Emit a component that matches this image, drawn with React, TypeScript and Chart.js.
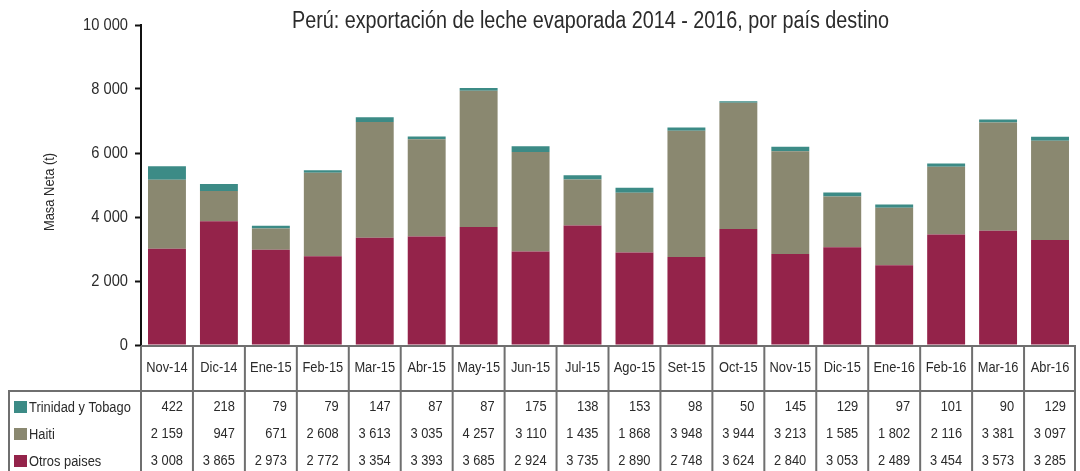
import React, { useEffect, useRef } from "react";
import { Chart, registerables } from "chart.js";

Chart.register(...registerables);

const categories = [
  "Nov-14", "Dic-14", "Ene-15", "Feb-15", "Mar-15", "Abr-15", "May-15", "Jun-15", "Jul-15",
  "Ago-15", "Set-15", "Oct-15", "Nov-15", "Dic-15", "Ene-16", "Feb-16", "Mar-16", "Abr-16",
];
const otrosPaises = [3008, 3865, 2973, 2772, 3354, 3393, 3685, 2924, 3735, 2890, 2748, 3624, 2840, 3053, 2489, 3454, 3573, 3285];
const haiti = [2159, 947, 671, 2608, 3613, 3035, 4257, 3110, 1435, 1868, 3948, 3944, 3213, 1585, 1802, 2116, 3381, 3097];
const trinidad = [422, 218, 79, 79, 147, 87, 87, 175, 138, 153, 98, 50, 145, 129, 97, 101, 90, 129];

const title = "Perú: exportación de leche evaporada 2014 - 2016, por país destino";
const yTitle = "Masa Neta (t)";

const COLORS = {
  otros: "#94234A",
  haiti: "#8A8870",
  trinidad: "#3C8B86",
  grid: "#6f6f6f",
  text: "#2b2b2b",
};

const FONT = "'Liberation Sans', Arial, sans-serif";

const fmt = (v: number) => {
  const s = Math.round(v).toString();
  return s.replace(/\B(?=(\d{3})+(?!\d))/g, " ");
};

function drawText(ctx: any, text: string, x: number, y: number, size: number, align: string, sx: number) {
  ctx.save();
  ctx.translate(x, y);
  ctx.scale(sx, 1);
  ctx.font = `${size}px ${FONT}`;
  ctx.textAlign = align;
  ctx.textBaseline = "middle";
  ctx.fillText(text, 0, 0);
  ctx.restore();
}

const tablePlugin = {
  id: "tablePlugin",
  afterDraw(chart: any) {
    const ctx = chart.ctx;
    const area = chart.chartArea;
    const xs = chart.scales.x;
    const ys = chart.scales.y;
    const n = categories.length;
    const colW = (area.right - area.left) / n;
    const H = chart.height;
    const headerTop = area.bottom;
    const headerBottom = headerTop + 46;
    const tableLeft = 8;
    ctx.save();
    ctx.fillStyle = COLORS.text;

    // title
    drawText(ctx, title, (area.left + area.right) / 2 - 18, 22, 23, "center", 0.86);

    // y tick labels
    ys.ticks.forEach((t: any) => {
      drawText(ctx, fmt(t.value), area.left - 13, ys.getPixelForValue(t.value), 16.5, "right", 0.89);
    });

    // y axis title
    ctx.save();
    ctx.translate(50, (area.top + area.bottom) / 2 + 7);
    ctx.rotate(-Math.PI / 2);
    drawText(ctx, yTitle, 0, 0, 15, "center", 0.86);
    ctx.restore();

    // grid lines
    ctx.strokeStyle = COLORS.grid;
    ctx.lineWidth = 2;
    ctx.beginPath();
    ctx.moveTo(area.left, headerTop + 1);
    ctx.lineTo(area.right, headerTop + 1);
    ctx.moveTo(tableLeft, headerBottom);
    ctx.lineTo(area.right, headerBottom);
    ctx.moveTo(tableLeft + 1, headerBottom);
    ctx.lineTo(tableLeft + 1, H);
    for (let i = 0; i <= n; i++) {
      const cx = i < n ? xs.getPixelForValue(i) - colW / 2 : xs.getPixelForValue(n - 1) + colW / 2;
      const x = i === n ? cx - 1 : cx;
      ctx.moveTo(x, headerTop + 1);
      ctx.lineTo(x, H);
    }
    ctx.stroke();

    // header labels
    ctx.fillStyle = COLORS.text;
    categories.forEach((c, i) => {
      drawText(ctx, c, xs.getPixelForValue(i), (headerTop + headerBottom) / 2, 15.5, "center", 0.83);
    });

    // rows
    const rows = [
      { label: "Trinidad y Tobago", color: COLORS.trinidad, data: trinidad },
      { label: "Haiti", color: COLORS.haiti, data: haiti },
      { label: "Otros paises", color: COLORS.otros, data: otrosPaises },
    ];
    rows.forEach((r, ri) => {
      const cy = headerBottom + 16 + ri * 27;
      ctx.fillStyle = r.color;
      ctx.fillRect(14, cy - 6, 13, 12);
      ctx.fillStyle = COLORS.text;
      drawText(ctx, r.label, 29, cy + 1, 15.5, "left", 0.83);
      r.data.forEach((v, i) => {
        drawText(ctx, fmt(v), xs.getPixelForValue(i) + colW / 2 - 10, cy, 15.5, "right", 0.83);
      });
    });
    ctx.restore();
  },
};

export default function App() {
  const ref = useRef<HTMLCanvasElement>(null);
  useEffect(() => {
    if (!ref.current) return;
    const chart = new Chart(ref.current, {
      type: "bar",
      data: {
        labels: categories,
        datasets: [
          { label: "Otros paises", data: otrosPaises, backgroundColor: COLORS.otros },
          { label: "Haiti", data: haiti, backgroundColor: COLORS.haiti },
          { label: "Trinidad y Tobago", data: trinidad, backgroundColor: COLORS.trinidad },
        ],
      },
      options: {
        animation: false,
        responsive: false,
        maintainAspectRatio: false,
        layout: { padding: { left: 0, right: 4, top: 25, bottom: 126 } },
        plugins: {
          legend: { display: false },
          title: { display: false },
          tooltip: { enabled: false },
        },
        datasets: { bar: { categoryPercentage: 1, barPercentage: 0.73 } },
        scales: {
          x: {
            stacked: true,
            display: false,
            offset: true,
          },
          y: {
            stacked: true,
            min: 0,
            max: 10000,
            afterFit: (scale: any) => {
              scale.width = 141;
            },
            ticks: {
              stepSize: 2000,
              color: "rgba(0,0,0,0)",
              padding: 7,
              font: { family: FONT, size: 15 },
              callback: (v: any) => fmt(Number(v)),
            },
            grid: {
              display: true,
              drawOnChartArea: false,
              drawTicks: true,
              tickLength: 6,
              tickColor: "#111",
              tickWidth: 2,
            },
            border: { display: true, color: "#111", width: 2 },
          },
        },
      },
      plugins: [tablePlugin],
    });
    return () => chart.destroy();
  }, []);
  return (
    <div style={{ position: "fixed", left: 0, top: 0, width: 1080, height: 471, background: "#fff" }}>
      <canvas ref={ref} width={1080} height={471} style={{ width: 1080, height: 471, display: "block" }} />
    </div>
  );
}
